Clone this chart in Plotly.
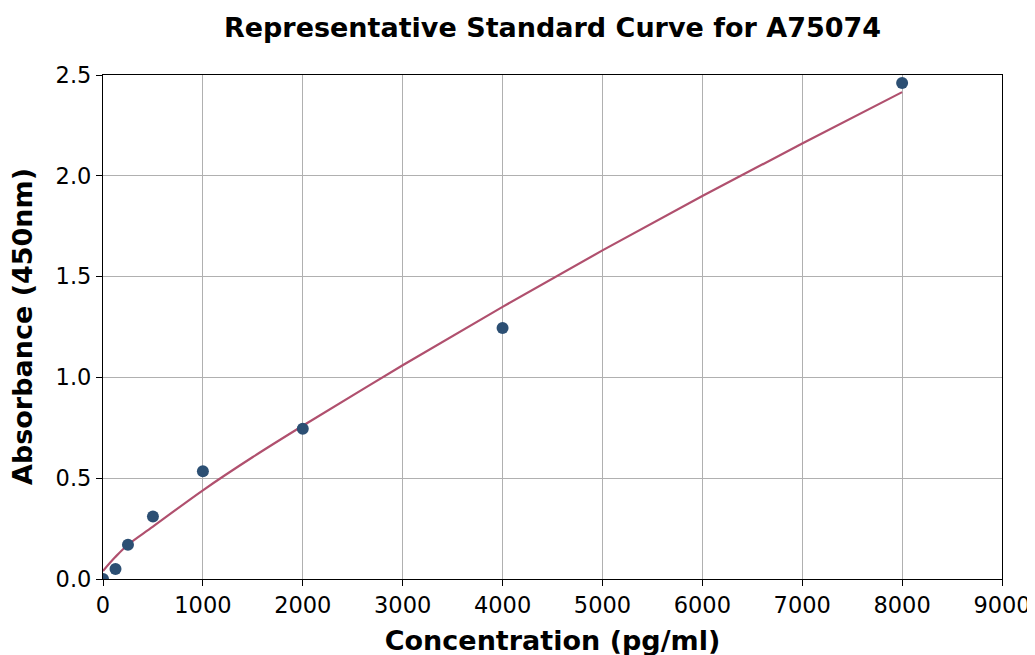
import plotly.graph_objects as go

conc = [0, 125, 250, 500, 1000, 2000, 4000, 8000]
absorb = [0.0, 0.05, 0.17, 0.31, 0.535, 0.745, 1.245, 2.46]

fit_x = [0, 125, 250, 500, 1000, 1500, 2000, 3000, 4000, 5000, 6000, 7000, 8000]
fit_y = [0.04, 0.11, 0.17, 0.26, 0.44, 0.605, 0.76, 1.06, 1.35, 1.63, 1.90, 2.16, 2.415]

title = "Representative Standard Curve for A75074"
x_title = "Concentration (pg/ml)"
y_title = "Absorbance (450nm)"
x_ticks = [0, 1000, 2000, 3000, 4000, 5000, 6000, 7000, 8000, 9000]
y_ticks = [0.0, 0.5, 1.0, 1.5, 2.0, 2.5]

fig = go.Figure()
fig.add_trace(go.Scatter(x=fit_x, y=fit_y, mode="lines", line=dict(color="#b0506e", width=2.2, shape="spline"),
                         showlegend=False, hoverinfo="skip"))
fig.add_trace(go.Scatter(x=conc, y=absorb, mode="markers", marker=dict(color="#2c4f73", size=12),
                         showlegend=False, cliponaxis=True))

font = "DejaVu Sans"
fig.update_layout(
    width=1035, height=655,
    margin=dict(l=95, r=41, t=67, b=84),
    paper_bgcolor="white", plot_bgcolor="white",
    font=dict(family=font, size=22.5, color="black"),
    title=dict(text="<b>" + title + "</b>", x=0.5, xref="paper", xanchor="center", y=1 - 20 / 655,
               yanchor="middle", font=dict(family=font, size=27, color="black")),
)
fig.add_annotation(text="<b>" + y_title + "</b>", xref="paper", yref="paper", x=0, y=0.5,
                   xanchor="center", yanchor="middle", xshift=-81, textangle=-90,
                   showarrow=False, font=dict(family=font, size=27, color="black"))
fig.update_xaxes(range=[0, 9000], tickvals=x_ticks, ticktext=[str(v) for v in x_ticks],
                 showgrid=True, gridcolor="#b0b0b0", gridwidth=1,
                 showline=True, linecolor="black", linewidth=1.2, mirror=True,
                 ticks="outside", ticklen=6, tickcolor="black", zeroline=False,
                 title=dict(text="<b>" + x_title + "</b>", font=dict(size=27), standoff=14))
fig.update_yaxes(range=[0, 2.5], tickvals=y_ticks, ticktext=["%.1f" % v for v in y_ticks],
                 showgrid=True, gridcolor="#b0b0b0", gridwidth=1,
                 showline=True, linecolor="black", linewidth=1.2, mirror=True,
                 ticks="outside", ticklen=6, tickcolor="black", zeroline=False)

fig.write_html("out.html")
